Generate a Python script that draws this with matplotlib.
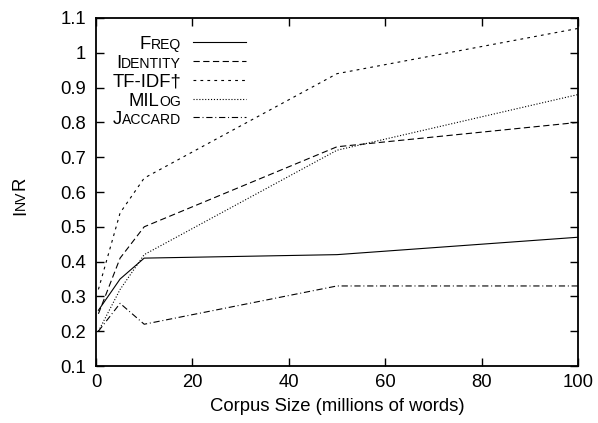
import matplotlib
matplotlib.use("Agg")
import matplotlib.pyplot as plt

plt.rcParams['font.family'] = ['Liberation Sans', 'DejaVu Sans']
plt.rcParams['lines.scale_dashes'] = False

corpus_size = [0.5, 5, 10, 50, 100]
freq = [0.26, 0.35, 0.41, 0.42, 0.47]
identity = [0.25, 0.41, 0.50, 0.73, 0.80]
tfidf = [0.32, 0.54, 0.64, 0.94, 1.07]
milog = [0.20, 0.32, 0.42, 0.72, 0.88]
jaccard = [0.20, 0.28, 0.22, 0.33, 0.33]

# legend labels as (text, is_big) parts to emulate small caps
labels = [
    [("F", True), ("REQ", False)],
    [("I", True), ("DENTITY", False)],
    [("TF-IDF†", True)],
    [("MIL", True), ("OG", False)],
    [("J", True), ("ACCARD", False)],
]
ylabel_parts = [("I", True), ("NV", False), ("R", True)]
xlabel = "Corpus Size (millions of words)"
xticks = [0, 20, 40, 60, 80, 100]
yticks = [0.1, 0.2, 0.3, 0.4, 0.5, 0.6, 0.7, 0.8, 0.9, 1.0, 1.1]

W, H = 598, 423
FS = 13.3
SMALL = FS * 0.76
LW = 0.8

fig = plt.figure(figsize=(W / 100, H / 100), dpi=100)
ax = fig.add_axes([96 / W, 1 - 366 / H, (578 - 96) / W, (366 - 18) / H])

styles = [
    (0, ()),
    (0, (4.5, 2.5)),
    (0, (2.0, 3.0)),
    (0, (0.8, 1.3)),
    (0, (4.5, 2.0, 0.7, 2.0)),
]
series = [freq, identity, tfidf, milog, jaccard]
for s, st in zip(series, styles):
    ax.plot(corpus_size, s, color='black', linewidth=LW,
            linestyle='-' if st == (0, ()) else st)

ax.set_xlim(0, 100)
ax.set_ylim(0.1, 1.1)
ax.set_xticks(xticks)
ax.set_yticks(yticks)
ax.set_yticklabels(["%g" % v for v in yticks])
ax.tick_params(direction='in', length=6, width=1, top=True, right=True,
               labelsize=FS, pad=6, colors='black')
ax.tick_params(axis='y', pad=7)
for sp in ax.spines.values():
    sp.set_linewidth(1.3)
ax.set_xlabel(xlabel, fontsize=FS, labelpad=5)

fig.canvas.draw()
renderer = fig.canvas.get_renderer()


def part_width(txt, size, rot=0):
    t = fig.text(0, 0, txt, fontsize=size, rotation=rot)
    bb = t.get_window_extent(renderer)
    t.remove()
    return bb.width if rot == 0 else bb.height


# legend (manual, to allow small caps)
row_y = [42.5, 61.5, 80.5, 99, 117.5]
label_right = 181
line_x0, line_x1 = 193, 246
for parts, ly, st in zip(labels, row_y, styles):
    widths = [part_width(p, FS if big else SMALL) for p, big in parts]
    x = label_right - sum(widths)
    base = H - ly - 6.5
    for (p, big), w in zip(parts, widths):
        fig.text(x / W, base / H, p, fontsize=FS if big else SMALL,
                 ha='left', va='baseline')
        x += w
    fig.add_artist(plt.Line2D([line_x0 / W, line_x1 / W], [(H - ly) / H] * 2,
                              transform=fig.transFigure, color='black',
                              linewidth=LW,
                              linestyle='-' if st == (0, ()) else st))

# y label with small caps, rotated
widths = [part_width(p, FS if big else SMALL) for p, big in ylabel_parts]
ycur = (H - 196) - sum(widths) / 2
xb = 25
for (p, big), w in zip(ylabel_parts, widths):
    fig.text(xb / W, ycur / H, p, fontsize=FS if big else SMALL, rotation=90,
             rotation_mode='anchor', ha='left', va='baseline')
    ycur += w

fig.savefig("out.png", dpi=100)
